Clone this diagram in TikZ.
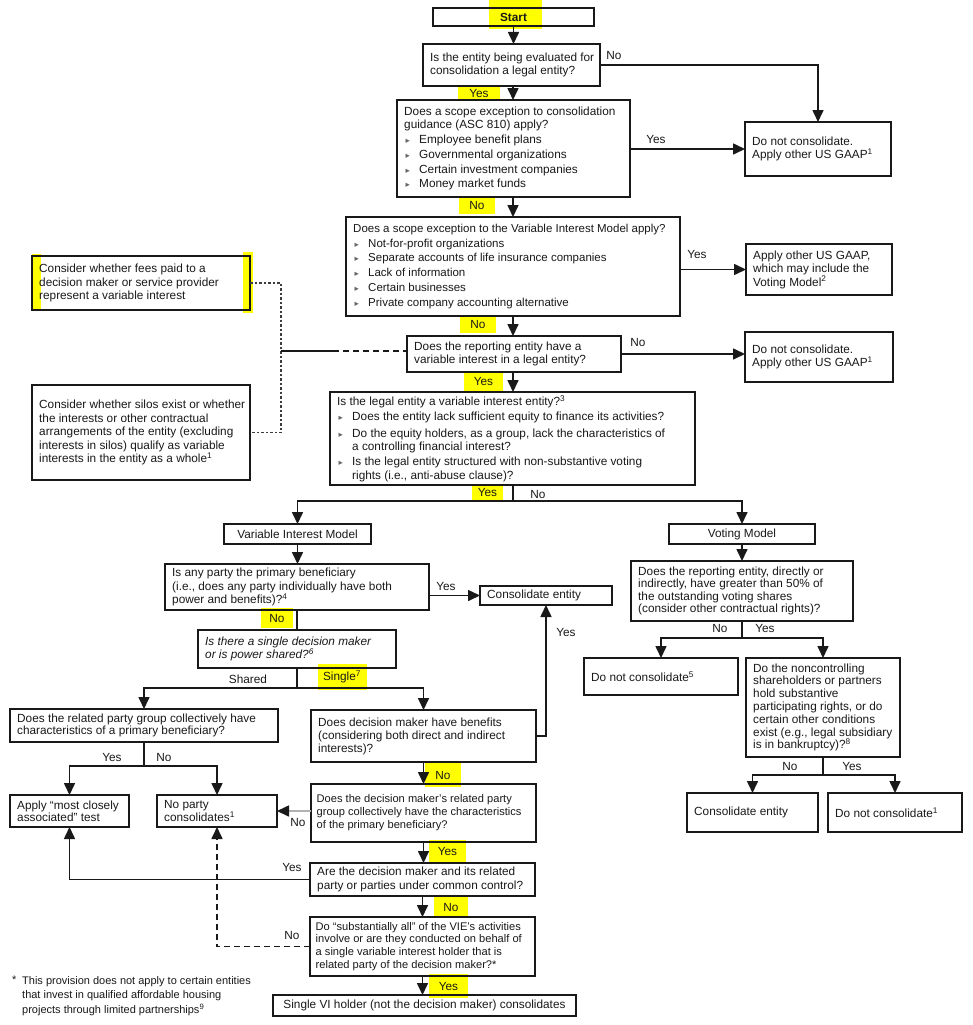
\documentclass[tikz,border=0pt]{standalone}
\usepackage{fontspec}
\setmainfont{Liberation Sans}
\newfontfamily\dejavu{DejaVu Sans}
\usetikzlibrary{arrows.meta,calc}
\definecolor{hl}{RGB}{255,255,0}
\definecolor{ink}{RGB}{25,25,25}
\newcommand\blt{\makebox[15pt][l]{\hspace{1.5pt}{\dejavu\fontsize{8.5}{8.5}\selectfont\textcolor{gray!80!black}{▸}}}}
\newcommand\ind{\hspace*{15pt}}
\newcommand\sps[1]{\textsuperscript{#1}}
\newcommand\flowbox[7][]{%
 \pgfmathsetmacro\fbw{#5-#3}\pgfmathsetmacro\fbh{#6-#4}%
 \node[box,minimum width=\fbw pt,minimum height=\fbh pt] (#2) at ({(#3+#5)/2},{(#4+#6)/2}) {};
 \node[txt,anchor=west,xshift=7pt,#1] (#2t) at (#2.west) {#7};}
\newcommand\flowboxc[7][]{%
 \pgfmathsetmacro\fbw{#5-#3}\pgfmathsetmacro\fbh{#6-#4}%
 \node[box,minimum width=\fbw pt,minimum height=\fbh pt] (#2) at ({(#3+#5)/2},{(#4+#6)/2}) {};
 \node[txt,align=center,#1] (#2t) at (#2.center) {#7};}
\begin{document}
\begin{tikzpicture}[x=1pt,y=-1pt,
  box/.style={draw=ink,line width=2pt,inner sep=0pt,outer sep=0pt},
  txt/.style={align=left,inner sep=0pt,font=\fontsize{11.8}{13.5}\selectfont,text=ink},
  lbl/.style={inner sep=0pt,font=\fontsize{11.8}{13}\selectfont,text=ink},
  hlbl/.style={lbl,fill=hl},
  conn/.style={draw=ink,line width=1.6pt},
  arr/.style={conn,-{Triangle[width=11pt,length=12pt]}},
  arrgray/.style={draw=gray!60,line width=1.6pt,-{Triangle[width=11pt,length=12pt,color=ink]}},
  dotline/.style={draw=ink!85,line width=1.9pt,dash pattern=on 2.5pt off 2pt},
  dashline/.style={dash pattern=on 6pt off 4pt}]
\useasboundingbox (0,0) rectangle (973,1025);
\fill[white] (0,0) rectangle (973,1025);
% highlight patches
\fill[hl] (489,0) rectangle (542,29);
\fill[hl] (32,254) rectangle (41,311);
\fill[hl] (243,252) rectangle (253,313);
% highlighted labels
\node[hlbl,minimum width=42pt,minimum height=14pt] (lyes1) at (479,93) {Yes};
\node[hlbl,minimum width=36pt,minimum height=18pt] (lno2) at (477,205) {No};
\node[hlbl,minimum width=36pt,minimum height=17pt] (lno3) at (478,324.5) {No};
\node[hlbl,minimum width=39pt,minimum height=19pt] (lyes4) at (483.5,381.5) {Yes};
\node[hlbl,minimum width=31pt,minimum height=15pt] (lyes5) at (487.5,492.5) {Yes};
\node[hlbl,minimum width=32pt,minimum height=20pt] (lno6) at (277,618) {No};
\node[hlbl,minimum width=49pt,minimum height=26pt] (lsingle) at (342,677) {Single\sps{7}};
\node[hlbl,minimum width=36pt,minimum height=24pt] (lno10) at (443,775) {No};
\node[hlbl,minimum width=37pt,minimum height=23pt] (lyes11) at (447.5,851.5) {Yes};
\node[hlbl,minimum width=34pt,minimum height=20pt] (lno12) at (451,907) {No};
\node[hlbl,minimum width=39pt,minimum height=24pt] (lyes13) at (448.5,986) {Yes};
% boxes
\flowboxc[font=\bfseries\fontsize{11.8}{13.5}\selectfont]{start}{433}{8}{594}{26}{Start}
\flowbox{q1}{423}{44}{600}{86}{Is the entity being evaluated for\\consolidation a legal entity?}
\flowbox{d1}{745}{122}{891}{176}{Do not consolidate.\\Apply other US GAAP\sps{1}}
\flowbox{q2}{397}{100}{630}{197}{Does a scope exception to consolidation\\guidance (ASC 810) apply?\\[1pt]\blt Employee benefit plans\\[2pt]\blt Governmental organizations\\[1pt]\blt Certain investment companies\\[1pt]\blt Money market funds}
\flowbox[font=\fontsize{11.5}{13.5}\selectfont]{q3}{346}{217}{680}{316}{Does a scope exception to the Variable Interest Model apply?\\[1pt]\blt Not-for-profit organizations\\[1pt]\blt Separate accounts of life insurance companies\\[1pt]\blt Lack of information\\[2pt]\blt Certain businesses\\[1pt]\blt Private company accounting alternative}
\flowbox{d2}{746}{244}{892}{295}{Apply other US GAAP,\\which may include the\\Voting Model\sps{2}}
\flowbox{q4}{407}{336}{621}{372}{Does the reporting entity have a\\variable interest in a legal entity?}
\flowbox{d3}{745}{332}{893}{382}{Do not consolidate.\\Apply other US GAAP\sps{1}}
\flowbox{f1}{32}{256}{250}{310}{Consider whether fees paid to a\\decision maker or service provider\\represent a variable interest}
\flowbox{f2}{32}{385}{250}{480}{Consider whether silos exist or whether\\the interests or other contractual\\arrangements of the entity (excluding\\interests in silos) qualify as variable\\interests in the entity as a whole\sps{1}}
\flowbox{q5}{330}{392}{695}{485}{Is the legal entity a variable interest entity?\sps{3}\\[1.5pt]\blt Does the entity lack sufficient equity to finance its activities?\\[3pt]\blt Do the equity holders, as a group, lack the characteristics of\\\ind a controlling financial interest?\\[1.5pt]\blt Is the legal entity structured with non-substantive voting\\\ind rights (i.e., anti-abuse clause)?}
\flowboxc{vim}{224}{524}{371}{544}{Variable Interest Model}
\flowboxc{vm}{669}{524}{815}{544}{Voting Model}
\flowbox{q6}{165}{564}{429}{610}{Is any party the primary beneficiary\\(i.e., does any party individually have both\\power and benefits)?\sps{4}}
\flowbox{ce}{480}{586}{612}{605}{Consolidate entity}
\flowbox[font=\fontsize{11.8}{12.5}\selectfont]{q8}{631}{561}{853}{621}{Does the reporting entity, directly or\\indirectly, have greater than 50\% of\\the outstanding voting shares\\(consider other contractual rights)?}
\flowbox[font=\itshape\fontsize{11.8}{13}\selectfont]{q7}{198}{630}{396}{668}{Is there a single decision maker\\or is power shared?\sps{6}}
\flowbox{d4}{584}{658}{738}{695}{Do not consolidate\sps{5}}
\flowbox[font=\fontsize{11.8}{12.8}\selectfont]{q14}{746}{658}{900}{757}{Do the noncontrolling\\shareholders or partners\\hold substantive\\participating rights, or do\\certain other conditions\\exist (e.g., legal subsidiary\\is in bankruptcy)?\sps{8}}
\flowbox[font=\fontsize{11.8}{12.5}\selectfont]{q9}{10}{709}{278}{742}{Does the related party group collectively have\\characteristics of a primary beneficiary?}
\flowbox[font=\fontsize{11.8}{13}\selectfont]{q10}{311}{710}{536}{762}{Does decision maker have benefits\\(considering both direct and indirect\\interests)?}
\flowbox[font=\fontsize{11.8}{12}\selectfont]{a1}{10}{795}{129}{827}{Apply “most closely\\associated” test}
\flowbox[font=\fontsize{11.8}{12}\selectfont]{a2}{157}{795}{277}{827}{No party\\consolidates\sps{1}}
\flowbox[xshift=-1.5pt,font=\fontsize{11.1}{13}\selectfont]{q11}{311}{784}{536}{842}{Does the decision maker’s related party\\group collectively have the characteristics\\of the primary beneficiary?}
\flowbox{ce2}{687}{793}{818}{832}{Consolidate entity}
\flowbox{d5}{828}{793}{962}{832}{Do not consolidate\sps{1}}
\flowbox[font=\fontsize{11.8}{14}\selectfont]{q12}{310}{863}{535}{896}{Are the decision maker and its related\\party or parties under common control?}
\flowbox[xshift=-1.5pt,font=\fontsize{11.1}{12.8}\selectfont]{q13}{310}{917}{535}{976}{Do “substantially all” of the VIE’s activities\\involve or are they conducted on behalf of\\a single variable interest holder that is\\related party of the decision maker?*}
\flowboxc{fin}{273}{995}{576}{1016}{Single VI holder (not the decision maker) consolidates}
% footnote
\node[txt,anchor=north west,font=\fontsize{11}{14.5}\selectfont] (fnstar) at (12,976) {*};
\node[txt,anchor=north west,font=\fontsize{11}{14.5}\selectfont] (fn) at (22,976) {This provision does not apply to certain entities\\that invest in qualified affordable housing\\projects through limited partnerships\sps{9}};
% plain labels
\node[lbl] (lno1) at (614,55) {No};
\node[lbl] (lyes2) at (656,139) {Yes};
\node[lbl] (lyes3) at (697,254) {Yes};
\node[lbl] (lno4) at (638,342) {No};
\node[lbl] (lno5) at (538,494) {No};
\node[lbl] (lyes6) at (446,586) {Yes};
\node[lbl] (lshared) at (248,679) {Shared};
\node[lbl] (lyesce) at (566,632) {Yes};
\node[lbl] (lyes9) at (112,757) {Yes};
\node[lbl] (lno9) at (164,757) {No};
\node[lbl] (lno11) at (298,822) {No};
\node[lbl] (lyes12) at (292,867) {Yes};
\node[lbl] (lno13) at (292,935) {No};
\node[lbl] (lno8) at (720,628) {No};
\node[lbl] (lyes8) at (765,628) {Yes};
\node[lbl] (lno14) at (790,766) {No};
\node[lbl] (lyes14) at (852,766) {Yes};
% connectors
\coordinate (sp) at (513,0);
\draw[arr] (start.south) -- (start.south |- q1.north);
\draw[arr] (q1.east) -| (d1.north);
\draw[arr] (sp |- q1.south) -- (sp |- q2.north);
\draw[arr] (q2.east |- d1.west) -- (d1.west);
\draw[arr] (sp |- q2.south) -- (sp |- q3.north);
\draw[arr] (q3.east |- d2.west) -- (d2.west);
\draw[arr] (sp |- q3.south) -- (sp |- q4.north);
\draw[arr] (q4.east) -- (q4.east -| d3.west);
\draw[arr] (sp |- q4.south) -- (sp |- q5.north);
\coordinate (dv) at (281,351);
\coordinate (dm) at (333,351);
\draw[dotline] (f1.east) -| (dv) |- (f2.east);
\draw[conn] (dv) -- (dm);
\draw[conn,dashline] (dm) -- (dm -| q4.west);
\coordinate (j1) at (513,501);
\draw[conn] (sp |- q5.south) -- (j1);
\draw[arr] (j1) -| (vim.north);
\draw[arr] (j1) -| (vm.north);
\draw[arr] (vim.south) -- (vim.south |- q6.north);
\draw[arr] (vm.south) -- (vm.south |- q8.north);
\draw[arr] (q6.east |- ce.west) -- (ce.west);
\draw[conn] (q6.south) -- (q6.south |- q7.north);
\coordinate (j2) at (297,688);
\draw[conn] (q7.south) -- (j2);
\draw[arr] (j2) -| (q9.north);
\draw[arr] (j2) -| (q10.north);
\coordinate (j3) at (144,766);
\draw[conn] (q9.south) -- (j3);
\draw[arr] (j3) -| (a1.north);
\draw[arr] (j3) -| (a2.north);
\draw[arr] (q10.south) -- (q10.south |- q11.north);
\draw[arr] (q10.east) -| (ce.south);
\draw[arrgray] (q11.west |- a2.east) -- (a2.east);
\draw[arr] (q11.south) -- (q11.south |- q12.north);
\draw[arr] (q12.west) -| (a1.south);
\draw[arr] (q12.south) -- (q12.south |- q13.north);
\draw[arr,dashline] (q13.west) -| (a2.south);
\draw[arr] (q13.south) -- (q13.south |- fin.north);
\coordinate (j4) at (742,638);
\draw[conn] (q8.south) -- (j4);
\draw[arr] (j4) -| (d4.north);
\draw[arr] (j4) -| (q14.north);
\coordinate (j5) at (823,775);
\draw[conn] (q14.south) -- (j5);
\draw[arr] (j5) -| (ce2.north);
\draw[arr] (j5) -| (d5.north);
\end{tikzpicture}
\end{document}
